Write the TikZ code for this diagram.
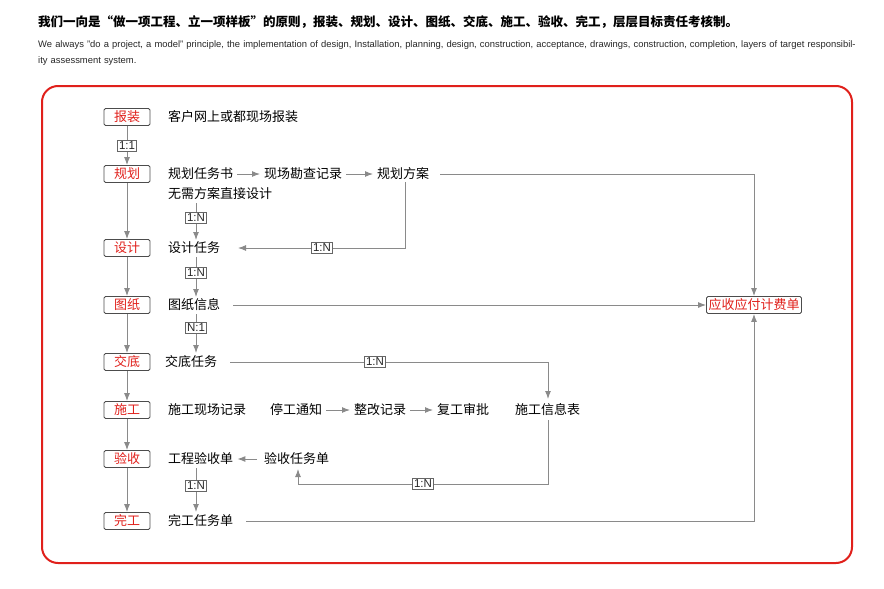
\documentclass[tikz,border=0pt]{standalone}
\usepackage{fontspec}
\setmainfont{Liberation Sans}
\newfontfamily\cjk{Noto Sans CJK SC}
\usetikzlibrary{arrows.meta}
\definecolor{rd}{HTML}{E0201B}
\definecolor{gr}{HTML}{8A8A8A}
\begin{document}
\begin{tikzpicture}[x=1pt,y=-1pt,
 stage/.style={draw=black!70,line width=0.8pt,rounded corners=1.5pt,minimum width=46pt,minimum height=17pt,inner sep=1pt,text=rd,font=\cjk\fontsize{13}{13}\selectfont},
 txt/.style={anchor=west,inner sep=1pt,font=\cjk\fontsize{13}{13}\selectfont},
 rel/.style={draw=black!60,line width=0.7pt,fill=white,inner sep=1.5pt,font=\fontsize{11.5}{11.5}\selectfont,text=black!85},
 ar/.style={draw=gr,line width=1pt,-{Latex[length=8pt,width=6pt]}},
 ln/.style={draw=gr,line width=1pt}]
\useasboundingbox (0,0) rectangle (884,589);
\node[anchor=west,inner sep=0,font=\cjk\bfseries\fontsize{12.5}{13}\selectfont] (t1) at (38,22) {我们一向是“做一项工程、立一项样板”的原则，报装、规划、设计、图纸、交底、施工、验收、完工，层层目标责任考核制。};
\node[anchor=north west,inner sep=0,text width=822pt,align=left,font=\fontsize{9.4}{16}\selectfont,text=black!85] (t2) at (38,40) {We always "do a project, a model" principle, the implementation of design, Installation, planning, design, construction, acceptance, drawings, construction, completion, layers of target responsibility assessment system.};
\draw[rd,line width=2pt,rounded corners=16pt] (42,86) rectangle (852,563);
% stages
\node[stage] (s1) at (127,117) {报装};
\node[stage] (s2) at (127,174) {规划};
\node[stage] (s3) at (127,248) {设计};
\node[stage] (s4) at (127,305) {图纸};
\node[stage] (s5) at (127,362) {交底};
\node[stage] (s6) at (127,410) {施工};
\node[stage] (s7) at (127,459) {验收};
\node[stage] (s8) at (127,521) {完工};
\draw[ar] (s1) -- node[rel]{1:1} (s2);
\foreach \a/\b in {s2/s3,s3/s4,s4/s5,s5/s6,s6/s7,s7/s8} \draw[ar] (\a) -- (\b);
% texts
\node[txt] (a1) at (167,117) {客户网上或都现场报装};
\node[txt] (b1) at (167,174) {规划任务书};
\node[txt] (b2) at (263,174) {现场勘查记录};
\node[txt] (b3) at (376,174) {规划方案};
\node[txt] (b4) at (167,194) {无需方案直接设计};
\node[txt] (c1) at (167,248) {设计任务};
\node[txt] (d1) at (167,305) {图纸信息};
\node[txt] (e1) at (164,362) {交底任务};
\node[txt] (f1) at (167,410) {施工现场记录};
\node[txt] (f2) at (269,410) {停工通知};
\node[txt] (f3) at (353,410) {整改记录};
\node[txt] (f4) at (436,410) {复工审批};
\node[txt] (f5) at (514,410) {施工信息表};
\node[txt] (g1) at (167,459) {工程验收单};
\node[txt] (g2) at (263,459) {验收任务单};
\node[txt] (h1) at (167,521) {完工任务单};
\node[draw=black!70,line width=0.8pt,rounded corners=1.5pt,minimum height=17pt,inner sep=2pt,text=rd,font=\cjk\fontsize{13}{13}\selectfont] (r) at (754,305) {应收应付计费单};
% connectors
\draw[ar,shorten <=3pt,shorten >=3pt] (b1) -- (b2);
\draw[ar,shorten <=3pt,shorten >=3pt] (b2) -- (b3);
\draw[ar] (b3.east) ++(10,0) -| (r.north);
\draw[ln] (405,182) |- (305,248);
\node[rel] (l1) at (322,248) {1:N};
\draw[ar] (310,248) -- (238,248);
\draw[ar] (196,203) -- node[rel,pos=0.4]{1:N} (196,240);
\draw[ar] (196,257) -- node[rel,pos=0.4]{1:N} (196,297);
\draw[ar] (196,314) -- node[rel,pos=0.35]{N:1} (196,353);
\draw[ar] (d1.east) ++(12,0) -- (r.west);
\draw[ln] (e1.east) ++(12,0) -- (548,362);
\node[rel] (l2) at (375,362) {1:N};
\draw[ar] (548,362) -- (548,399);
\draw[ar,shorten <=3pt,shorten >=3pt] (f2) -- (f3);
\draw[ar,shorten <=3pt,shorten >=3pt] (f3) -- (f4);
\draw[ar] (548,420) |- node[rel,pos=0.75]{1:N} (298,484) -- (298,469);
\draw[ar,shorten <=6pt,shorten >=3pt] (g2) -- (g1);
\draw[ar] (196,468) -- node[rel,pos=0.4]{1:N} (196,512);
\draw[ar] (h1.east) ++(12,0) -| (r.south);
\end{tikzpicture}
\end{document}
